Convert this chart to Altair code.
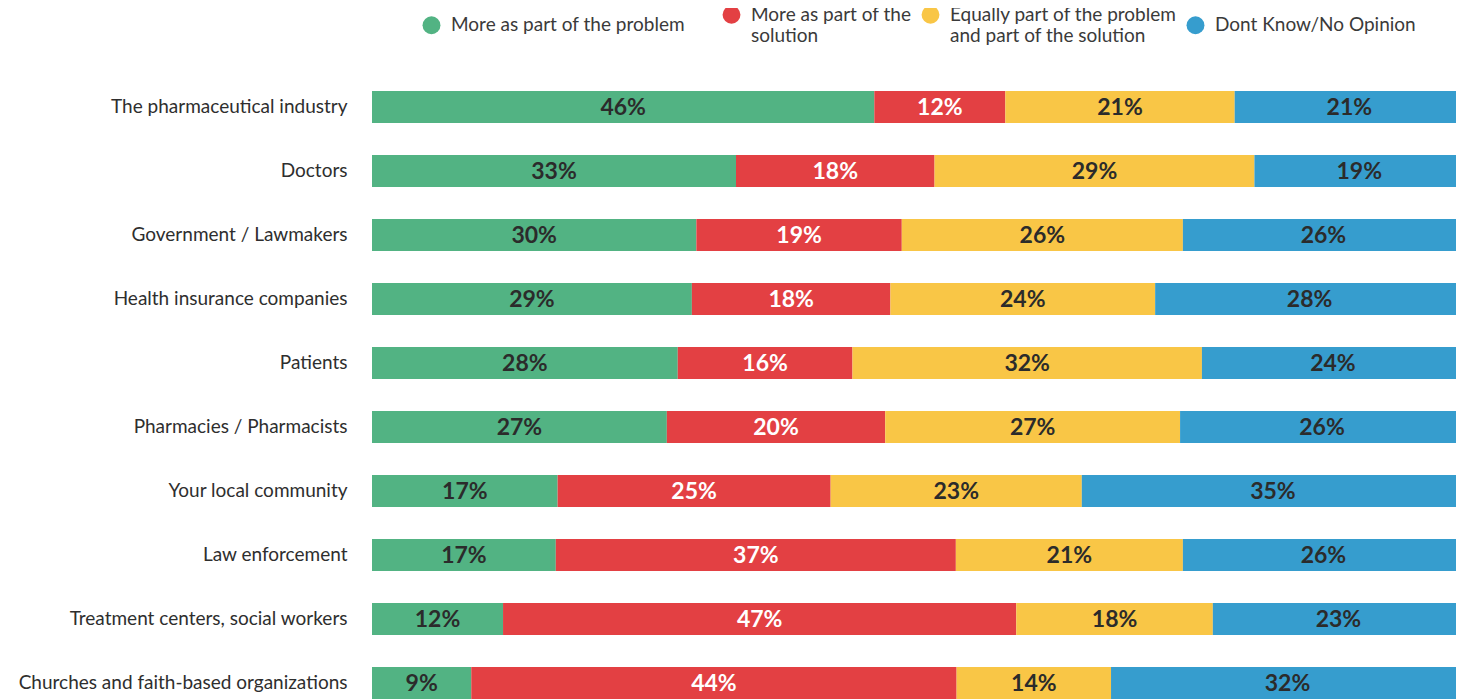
import altair as alt
import pandas as pd

categories = [
    "The pharmaceutical industry",
    "Doctors",
    "Government / Lawmakers",
    "Health insurance companies",
    "Patients",
    "Pharmacies / Pharmacists",
    "Your local community",
    "Law enforcement",
    "Treatment centers, social workers",
    "Churches and faith-based organizations",
]
responses = [
    "More as part of the problem",
    "More as part of the\nsolution",
    "Equally part of the problem\nand part of the solution",
    "Dont Know/No Opinion",
]
colors = ["#52b383", "#e34043", "#f9c646", "#369dce"]

problem = [46, 33, 30, 29, 28, 27, 17, 17, 12, 9]
solution = [12, 18, 19, 18, 16, 20, 25, 37, 47, 44]
equally = [21, 29, 26, 24, 32, 27, 23, 21, 18, 14]
dont_know = [21, 19, 26, 28, 24, 26, 35, 26, 23, 32]

series = [problem, solution, equally, dont_know]
rows = []
for ci, cat in enumerate(categories):
    for ri, resp in enumerate(responses):
        rows.append({"category": cat, "response": resp, "order": ri, "value": series[ri][ci]})
df = pd.DataFrame(rows)

FONT = "Lato"

base = alt.Chart(df).transform_joinaggregate(
    total="sum(value)", groupby=["category"]
).transform_window(
    cum="sum(value)", groupby=["category"], sort=[alt.SortField("order")],
    frame=[None, 0]
).transform_calculate(
    start="(datum.cum - datum.value) / datum.total",
    end="datum.cum / datum.total",
    mid="(datum.cum - datum.value / 2) / datum.total",
    label="datum.value + '%'",
)

yenc = alt.Y(
    "category:N", sort=categories, title=None,
    scale=alt.Scale(paddingInner=0.5, paddingOuter=0.25),
    axis=alt.Axis(labelFont=FONT, labelFontSize=19, labelColor="#2e2e2e",
                  labelPadding=25, ticks=False, domain=False, labelLimit=500,
                  minExtent=364, maxExtent=364),
)
xscale = alt.Scale(domain=[0, 1], nice=False, range=[0, 1092])

legend_label = (
    "indexof(datum.label, '\\n') < 0 && indexof(datum.label, 'problem') > 0 ? "
    "datum.label + '\u2800\u2800' : split(datum.label, '\\n')"
)

bars = base.mark_bar().encode(
    y=yenc,
    x=alt.X("start:Q", scale=xscale, axis=None),
    x2="end:Q",
    color=alt.Color(
        "response:N", sort=responses,
        scale=alt.Scale(domain=responses, range=colors),
        legend=alt.Legend(
            title=None, orient="none", direction="horizontal",
            legendX=50, legendY=-70, symbolType="circle", symbolSize=320,
            symbolStrokeWidth=0, symbolOpacity=1,
            labelFont=FONT, labelFontSize=19, labelColor="#3a3a3a",
            labelOffset=10, columnPadding=9, labelLimit=400,
            labelExpr=legend_label,
        ),
    ),
    order=alt.Order("order:Q"),
)

texts = base.mark_text(font=FONT, fontSize=23, fontWeight="bold", baseline="middle", dy=1).encode(
    y=alt.Y("category:N", sort=categories),
    x=alt.X("mid:Q", scale=xscale),
    text="label:N",
    color=alt.condition(
        alt.datum.order == 1, alt.value("#ffffff"), alt.value("#2b2b2b")
    ),
)

chart = alt.layer(bars, texts).properties(
    width=1084, height=640,
    autosize=alt.AutoSizeParams(type="none"),
    padding={"left": 364, "top": 67, "right": 0, "bottom": 0},
).configure_view(stroke=None)

chart.save("out.html", embed_options={"renderer": "svg", "actions": False})
